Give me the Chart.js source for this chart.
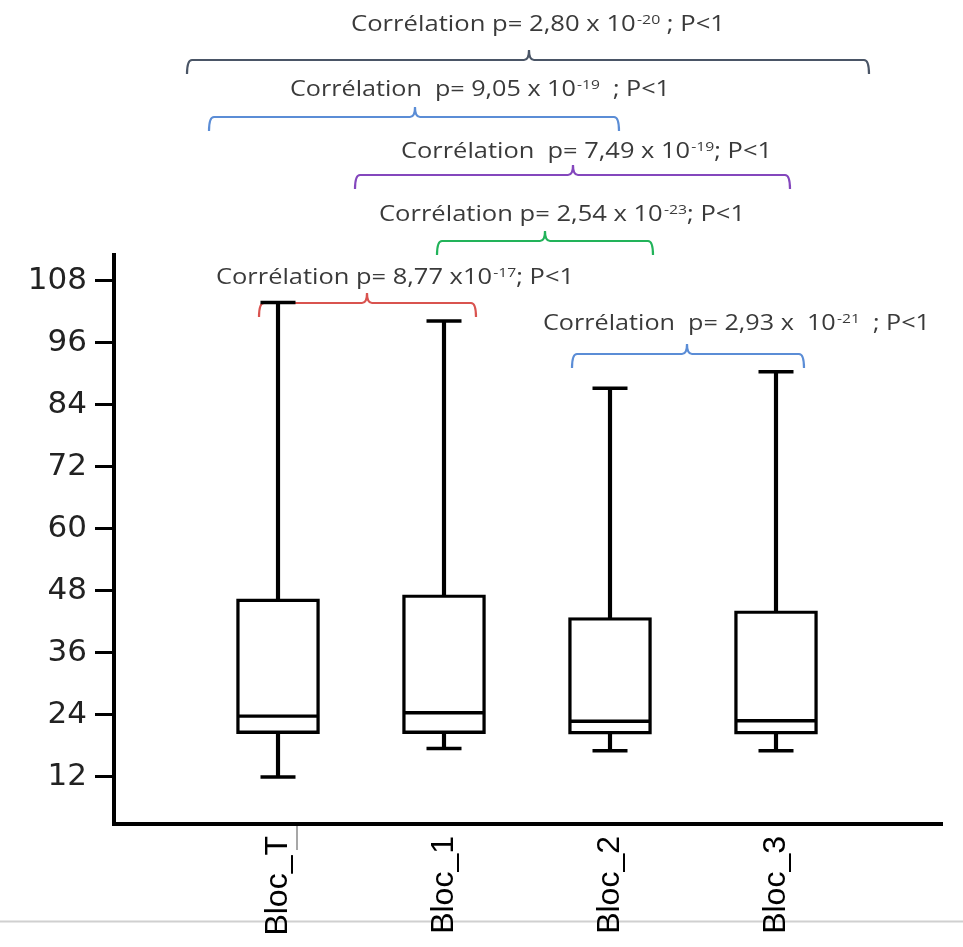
<!DOCTYPE html>
<html>
<head>
<meta charset="utf-8">
<script src="https://cdn.jsdelivr.net/npm/chart.js@4.4.1/dist/chart.umd.min.js"></script>
<style>
  html, body { margin: 0; padding: 0; background: #fff; }
</style>
</head>
<body>
<canvas id="boxChart" width="963" height="947"></canvas>
<script>
const categories = ['Bloc_T', 'Bloc_1', 'Bloc_2', 'Bloc_3'];
const whiskerLow = [11.9, 17.4, 17.0, 17.0];
const quartile1 = [20.3, 20.3, 20.2, 20.2];
const medians = [23.7, 24.35, 22.7, 22.8];
const quartile3 = [46.4, 47.2, 42.8, 44.1];
const whiskerHigh = [103.8, 100.2, 87.2, 90.4];
const yTicks = [12, 24, 36, 48, 60, 72, 84, 96, 108];

// correlation notes drawn above the plot (pixel layout)
const notes = [
  { text: 'Corrélation p= 2,80 x 10', sup: '-20', tail: ' ; P<1', tx: 351, tw: 374, ty: 23,
    x1: 187, x2: 869, xm: 529, y: 60, color: '#4a5566' },
  { text: 'Corrélation  p= 9,05 x 10', sup: '-19', tail: '  ; P<1', tx: 290, tw: 380, ty: 88,
    x1: 209, x2: 619, xm: 415, y: 117, color: '#5b8dd6' },
  { text: 'Corrélation  p= 7,49 x 10', sup: '-19', tail: '; P<1', tx: 401, tw: 371, ty: 150,
    x1: 355, x2: 790, xm: 573, y: 175, color: '#8447bd' },
  { text: 'Corrélation p= 2,54 x 10', sup: '-23', tail: '; P<1', tx: 379, tw: 366, ty: 213,
    x1: 437, x2: 653, xm: 545, y: 241, color: '#22b35a' },
  { text: 'Corrélation p= 8,77 x10', sup: '-17', tail: '; P<1', tx: 216, tw: 358, ty: 276,
    x1: 259, x2: 476, xm: 367, y: 303, color: '#d9534f' },
  { text: 'Corrélation  p= 2,93 x  10', sup: '-21', tail: '  ; P<1', tx: 543, tw: 387, ty: 322,
    x1: 572, x2: 804, xm: 687, y: 354, color: '#5b8dd6' }
];

function drawBracket(ctx, n) {
  const d = 14, h = 10, r = 5;
  ctx.save();
  ctx.strokeStyle = n.color;
  ctx.lineWidth = 2.2;
  ctx.beginPath();
  ctx.moveTo(n.x1, n.y + d);
  ctx.quadraticCurveTo(n.x1, n.y, n.x1 + r, n.y);
  ctx.lineTo(n.xm - r, n.y);
  ctx.quadraticCurveTo(n.xm, n.y, n.xm, n.y - h);
  ctx.quadraticCurveTo(n.xm, n.y, n.xm + r, n.y);
  ctx.lineTo(n.x2 - r, n.y);
  ctx.quadraticCurveTo(n.x2, n.y, n.x2, n.y + d);
  ctx.stroke();
  ctx.restore();
}

function drawNote(ctx, n) {
  const mainFont = '21px "Open Sans"';
  const supFont = '13px "Open Sans"';
  ctx.save();
  ctx.font = mainFont;
  const w1 = ctx.measureText(n.text).width;
  const w3 = ctx.measureText(n.tail).width;
  ctx.font = supFont;
  const w2 = ctx.measureText(n.sup).width + 1;
  const sx = n.tw / (w1 + w2 + w3);
  ctx.translate(n.tx, n.ty + 7.5);
  ctx.scale(sx, 1);
  ctx.fillStyle = '#3a3a3a';
  ctx.textAlign = 'left';
  ctx.textBaseline = 'alphabetic';
  ctx.font = mainFont;
  ctx.fillText(n.text, 0, 0);
  ctx.font = supFont;
  ctx.fillText(n.sup, w1 + 1, -7);
  ctx.font = mainFont;
  ctx.fillText(n.tail, w1 + w2, 0);
  ctx.restore();
}

const notesPlugin = {
  id: 'notes',
  beforeDraw(chart) {
    const ctx = chart.ctx;
    ctx.save();
    ctx.fillStyle = '#fff';
    ctx.fillRect(0, 0, chart.width, chart.height);
    // faint page line under the labels
    ctx.strokeStyle = '#d0d0d0';
    ctx.lineWidth = 2;
    ctx.beginPath();
    ctx.moveTo(0, 921.5);
    ctx.lineTo(chart.width, 921.5);
    ctx.stroke();
    // stray grey tick next to Bloc_T
    ctx.strokeStyle = '#8a8a8a';
    ctx.lineWidth = 1.5;
    ctx.beginPath();
    ctx.moveTo(297, chart.chartArea.bottom + 2);
    ctx.lineTo(297, chart.chartArea.bottom + 26);
    ctx.stroke();
    ctx.restore();
  },
  beforeDatasetsDraw(chart) {
    notes.forEach(n => drawBracket(chart.ctx, n));
  },
  afterDraw(chart) {
    notes.forEach(n => drawNote(chart.ctx, n));
  }
};

new Chart(
  document.getElementById('boxChart'),
  {
    type: 'bar',
    plugins: [notesPlugin],

    data: {
      datasets: [
        {
          // whisker stems
          type: 'bar',
          data: categories.map((c, i) => ({ x: i, y: [whiskerLow[i], whiskerHigh[i]] })),
          backgroundColor: '#000',
          borderWidth: 0,
          barThickness: 3.5,
          grouped: false,
          order: 3
        },
        {
          // boxes q1..q3
          type: 'bar',
          data: categories.map((c, i) => ({ x: i, y: [quartile1[i], quartile3[i]] })),
          backgroundColor: '#fff',
          borderColor: '#000',
          borderWidth: 3.4,
          borderSkipped: false,
          barThickness: 83,
          grouped: false,
          order: 2
        },
        {
          // medians
          type: 'scatter',
          data: categories.map((c, i) => ({ x: i, y: medians[i] })),
          pointStyle: 'line',
          pointRadius: 41,
          borderColor: '#000',
          borderWidth: 3.4,
          order: 1
        },
        {
          // whisker caps
          type: 'scatter',
          data: categories.map((c, i) => ({ x: i, y: whiskerLow[i] }))
            .concat(categories.map((c, i) => ({ x: i, y: whiskerHigh[i] }))),
          pointStyle: 'line',
          pointRadius: 17.5,
          borderColor: '#000',
          borderWidth: 3.5,
          order: 1
        }
      ]
    },

    options: {
      responsive: false,
      devicePixelRatio: 1,
      animation: false,
      events: [],
      layout: {
        autoPadding: false,
        padding: { top: 255, right: 21, left: 0, bottom: 0 }
      },
      plugins: {
        legend: { display: false },
        tooltip: { enabled: false }
      },
      scales: {
        x: {
          type: 'linear',
          min: -0.988,
          max: 4,
          offset: false,
          afterBuildTicks: scale => {
            scale.ticks = categories.map((c, i) => ({ value: i }));
          },
          afterFit: scale => {
            scale.height = 123;
            scale.paddingLeft = 0;
            scale.paddingRight = 0;
          },
          grid: { display: false, drawTicks: false },
          border: { display: true, color: '#000', width: 4 },
          ticks: {
            autoSkip: false,
            minRotation: 90,
            maxRotation: 90,
            padding: 12,
            color: '#000',
            font: { family: '"Liberation Sans", Arial, sans-serif', size: 32 },
            callback: (value, index) => categories[index]
          }
        },
        y: {
          type: 'linear',
          min: 2.8,
          max: 113,
          afterBuildTicks: scale => {
            scale.ticks = yTicks.map(v => ({ value: v }));
          },
          afterFit: scale => {
            scale.width = 114;
            scale.paddingTop = 0;
            scale.paddingBottom = 0;
          },
          grid: {
            display: true,
            drawOnChartArea: false,
            drawTicks: true,
            tickLength: 19,
            tickWidth: 3,
            color: '#000'
          },
          border: { display: true, color: '#000', width: 4 },
          ticks: {
            autoSkip: false,
            padding: 8,
            color: '#222',
            font: { family: '"DejaVu Sans", sans-serif', size: 31 }
          }
        }
      }
    }
  }
);
</script>
</body>
</html>
